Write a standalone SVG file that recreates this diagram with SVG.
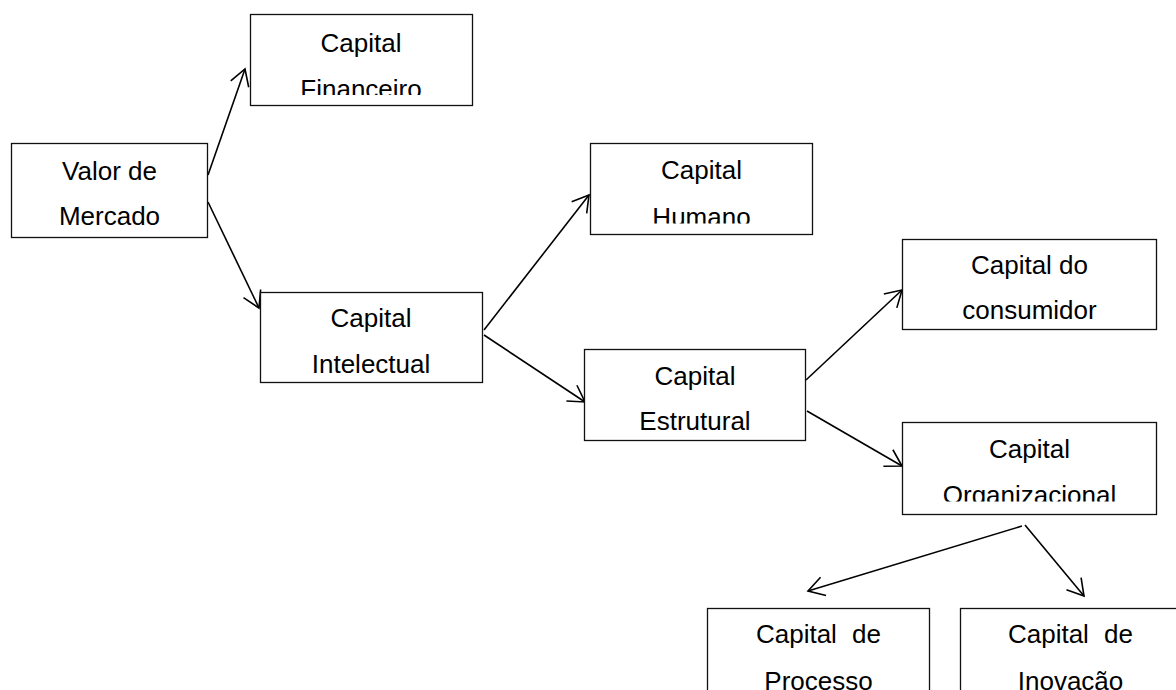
<svg xmlns="http://www.w3.org/2000/svg" width="1176" height="690" viewBox="0 0 1176 690">
  <style>
    .box { fill: #fff; stroke: #111; stroke-width: 1.3; }
    .lbl { font-family: "Liberation Sans", Arial, sans-serif; font-size: 26px; fill: #000; text-anchor: middle; }
    .conn { stroke: #000; stroke-width: 1.6; fill: none; }
  </style>
  <defs>
    <marker id="arrow" markerUnits="userSpaceOnUse" markerWidth="40" markerHeight="40" viewBox="-20 -20 40 40" refX="0" refY="0" orient="auto" overflow="visible">
      <path d="M-16,-9.5 L0,0 L-16,9.5" fill="none" stroke="#000" stroke-width="1.6"/>
    </marker>
    <clipPath id="clipFin"><rect x="250" y="14" width="223" height="81"/></clipPath>
    <clipPath id="clipHum"><rect x="590" y="143" width="223" height="80.5"/></clipPath>
    <clipPath id="clipOrg"><rect x="902" y="422" width="255" height="79.5"/></clipPath>
  </defs>
  <rect width="1176" height="690" fill="#fff"/>

  <g id="connectors">
    <line class="conn" x1="208" y1="175" x2="245" y2="69" marker-end="url(#arrow)"/>
    <line class="conn" x1="208" y1="202" x2="259" y2="308" marker-end="url(#arrow)"/>
    <line class="conn" x1="484" y1="330" x2="589" y2="195" marker-end="url(#arrow)"/>
    <line class="conn" x1="484" y1="335" x2="585" y2="402" marker-end="url(#arrow)"/>
    <line class="conn" x1="806" y1="380" x2="902" y2="290" marker-end="url(#arrow)"/>
    <line class="conn" x1="807" y1="411" x2="902" y2="466" marker-end="url(#arrow)"/>
    <line class="conn" x1="1022" y1="526" x2="808" y2="591" marker-end="url(#arrow)"/>
    <line class="conn" x1="1025" y1="525" x2="1084" y2="596" marker-end="url(#arrow)"/>
  </g>

  <g id="capital-financeiro">
    <rect class="box" x="250.5" y="14.5" width="222" height="91"/>
    <g clip-path="url(#clipFin)">
      <text class="lbl" x="361" y="52">Capital</text>
      <text class="lbl" x="361" y="98">Financeiro</text>
    </g>
  </g>

  <g id="valor-de-mercado">
    <rect class="box" x="11.5" y="143.5" width="196" height="94"/>
    <text class="lbl" x="109.5" y="180">Valor de</text>
    <text class="lbl" x="109.5" y="225">Mercado</text>
  </g>

  <g id="capital-humano">
    <rect class="box" x="590.5" y="143.5" width="222" height="91"/>
    <g clip-path="url(#clipHum)">
      <text class="lbl" x="701.5" y="179">Capital</text>
      <text class="lbl" x="701.5" y="226">Humano</text>
    </g>
  </g>

  <g id="capital-intelectual">
    <rect class="box" x="260.5" y="292.5" width="222" height="90"/>
    <text class="lbl" x="371" y="327">Capital</text>
    <text class="lbl" x="371" y="373">Intelectual</text>
  </g>

  <g id="capital-estrutural">
    <rect class="box" x="584.5" y="349.5" width="221" height="91"/>
    <text class="lbl" x="695" y="385">Capital</text>
    <text class="lbl" x="695" y="430">Estrutural</text>
  </g>

  <g id="capital-do-consumidor">
    <rect class="box" x="902.5" y="239.5" width="254" height="90"/>
    <text class="lbl" x="1029.5" y="274">Capital do</text>
    <text class="lbl" x="1029.5" y="319">consumidor</text>
  </g>

  <g id="capital-organizacional">
    <rect class="box" x="902.5" y="422.5" width="254" height="92"/>
    <g clip-path="url(#clipOrg)">
      <text class="lbl" x="1029.5" y="458">Capital</text>
      <text class="lbl" x="1029.5" y="504">Organizacional</text>
    </g>
  </g>

  <g id="capital-de-processo">
    <rect class="box" x="707.5" y="608.5" width="222" height="100"/>
    <text class="lbl" x="818.5" y="643" word-spacing="8">Capital de</text>
    <text class="lbl" x="818.5" y="690">Processo</text>
  </g>

  <g id="capital-de-inovacao">
    <rect class="box" x="960.5" y="608.5" width="221" height="100"/>
    <text class="lbl" x="1070.5" y="643" word-spacing="8">Capital de</text>
    <text class="lbl" x="1070.5" y="690">Inovação</text>
  </g>
</svg>
